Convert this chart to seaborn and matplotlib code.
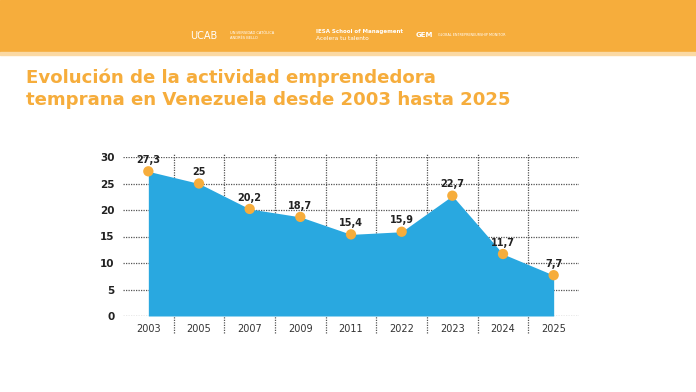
import numpy as np
import pandas as pd
import seaborn as sns
import matplotlib.pyplot as plt

years = ["2003", "2005", "2007", "2009", "2011", "2022", "2023", "2024", "2025"]
tea = [27.3, 25, 20.2, 18.7, 15.4, 15.9, 22.7, 11.7, 7.7]
labels = ["27,3", "25", "20,2", "18,7", "15,4", "15,9", "22,7", "11,7", "7,7"]
yticks = [0, 5, 10, 15, 20, 25, 30]

df = pd.DataFrame({"pos": np.arange(len(years)), "tea": tea})

orange = "#F6AD3C"
blue = "#29A8E0"

sns.set_style("white")
plt.rcParams['font.family'] = ['DejaVu Sans']

fig = plt.figure(figsize=(6.96, 3.92), dpi=100)

# header band
fig.patches.append(plt.Rectangle((0, 1 - 52/392), 1, 52/392, transform=fig.transFigure,
                                 color=orange, zorder=0))
fig.patches.append(plt.Rectangle((0, 1 - 55/392), 1, 3/392, transform=fig.transFigure,
                                 color="#FBD9A3", zorder=0))
fig.text(190/696, 1 - 36/392, "UCAB", color="white", fontsize=7, va="center")
fig.text(230/696, 1 - 33/392, "UNIVERSIDAD CATÓLICA", color="white", fontsize=2.6, va="center")
fig.text(230/696, 1 - 38/392, "ANDRÉS BELLO", color="white", fontsize=2.6, va="center")
fig.text(316/696, 1 - 31/392, "IESA School of Management", color="white", fontsize=4.0,
         fontweight="bold", va="center")
fig.text(316/696, 1 - 39/392, "Acelera tu talento", color="white", fontsize=4.2, va="center")
fig.text(416/696, 1 - 35/392, "GEM", color="white", fontsize=5, fontweight="bold", va="center")
fig.text(438/696, 1 - 35/392, "GLOBAL ENTREPRENEURSHIP MONITOR", color="white", fontsize=2.4,
         va="center")

# title
fig.text(26/696, 1 - 78/392, "Evolución de la actividad emprendedora", color=orange,
         fontsize=13.1, fontweight="bold", va="center")
fig.text(26/696, 1 - 100/392, "temprana en Venezuela desde 2003 hasta 2025", color=orange,
         fontsize=13.1, fontweight="bold", va="center")

ax = fig.add_axes([123/696, 1 - 316/392, (579 - 123)/696, (316 - 157)/392])
ax.fill_between(df["pos"], 0, df["tea"], color=blue, linewidth=0, zorder=2)
sns.scatterplot(data=df, x="pos", y="tea", ax=ax, color=orange, s=55, edgecolor="none", zorder=4)

for x, y, t in zip(df["pos"], df["tea"], labels):
    ax.text(x, y + 1.2, t, ha="center", va="bottom", fontsize=7, fontweight="bold",
            color="#222222", zorder=5)

ax.set_xlim(-0.5, len(years) - 0.5)
ax.set_ylim(0, 30)
ax.set_yticks(yticks)
ax.set_xticks(df["pos"])
ax.set_xticklabels(years)
ax.yaxis.grid(True, linestyle=(0, (1, 1)), color="#555555", linewidth=0.9)
ax.xaxis.grid(False)
ax.set_axisbelow(True)
for xb in np.arange(0.5, len(years) - 1, 1):
    ax.plot([xb, xb], [-0.11, 1.02], transform=ax.get_xaxis_transform(), clip_on=False,
            linestyle=(0, (1, 1)), color="#555555", linewidth=0.9, zorder=1)
for sp in ax.spines.values():
    sp.set_visible(False)
ax.tick_params(axis="both", length=0)
ax.tick_params(axis="x", pad=6, labelsize=7, labelcolor="#333333")
ax.tick_params(axis="y", pad=6, labelsize=7.5, labelcolor="#222222")
for lab in ax.get_yticklabels():
    lab.set_fontweight("bold")
ax.set_xlabel("")
ax.set_ylabel("")

fig.savefig("out.png", dpi=100)
